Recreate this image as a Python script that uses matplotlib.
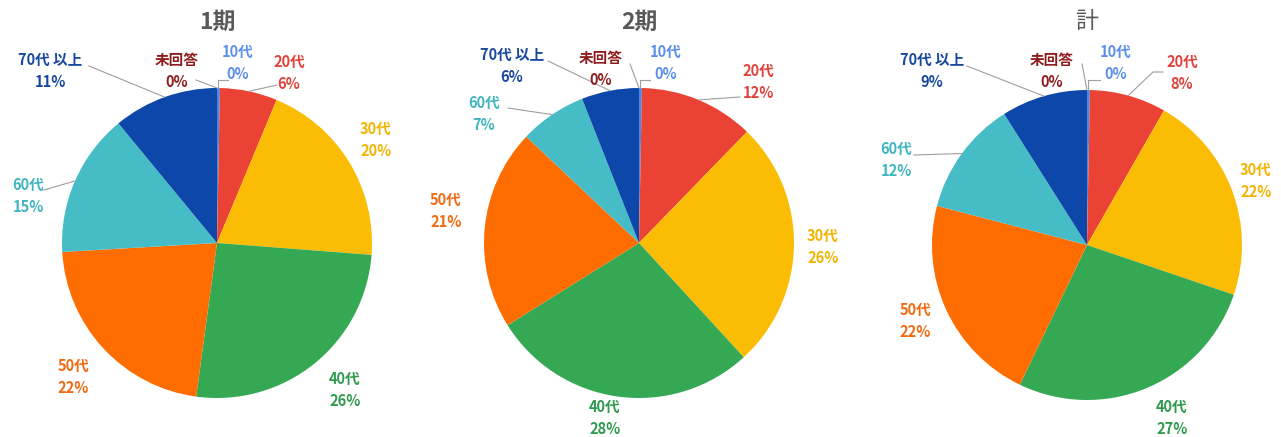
import matplotlib
matplotlib.use("Agg")
import matplotlib.pyplot as plt
import math

plt.rcParams['font.family'] = ['Noto Sans CJK JP', 'DejaVu Sans']

# ---------------- data ----------------
categories = ["10代", "20代", "30代", "40代", "50代", "60代", "70代 以上", "未回答"]
titles = ["1期", "2期", "計"]
values_1 = [0.3, 6, 20, 26, 22, 15, 11, 0]
values_2 = [0.3, 12, 26, 28, 21, 7, 6, 0]
values_3 = [0.3, 8, 22, 27, 22, 12, 9, 0]
pct_labels_1 = ["0%", "6%", "20%", "26%", "22%", "15%", "11%", "0%"]
pct_labels_2 = ["0%", "12%", "26%", "28%", "21%", "7%", "6%", "0%"]
pct_labels_3 = ["0%", "8%", "22%", "27%", "22%", "12%", "9%", "0%"]

# ---------------- style ----------------
slice_colors = ["#4A86E8", "#EA4335", "#FBBC04", "#34A853", "#FF6D01",
                "#46BDC6", "#0D47A9", "#8B1A1A"]
label_colors = ["#5B8FEA", "#E0413A", "#F2B400", "#2E9A4E", "#F06A10",
                "#3FB5BF", "#1747A0", "#8E1C1C"]

W, H = 1281, 437
R = 155
centers = [(217, 243), (639, 243), (1087, 245)]

# label positions (pixel coords, text-centre) and leader-line points near label
label_layout = [
    {  # 1期
        "10代": ((238, 63), [(228, 80)]), "20代": ((289, 73), [(277, 85)]),
        "30代": ((376, 140), None), "40代": ((345, 390), None),
        "50代": ((73, 377), None), "60代": ((28, 196), [(44, 190)]),
        "70代 以上": ((50, 71), [(89, 66)]), "未回答": ((177, 71), [(196, 80)]),
    },
    {  # 2期
        "10代": ((666, 63), [(650, 80)]), "20代": ((758, 82), [(740, 97)]),
        "30代": ((823, 247), None), "40代": ((605, 418), None),
        "50代": ((446, 211), None), "60代": ((484, 114), [(508, 108)]),
        "70代 以上": ((512, 66), [(548, 61)]), "未回答": ((601, 69), [(630, 64)]),
    },
    {  # 計
        "10代": ((1116, 63), [(1100, 80)]),
        "20代": ((1182, 73), [(1153, 72), (1163, 72)]),
        "30代": ((1256, 181), None), "40代": ((1172, 418), None),
        "50代": ((915, 321), None), "60代": ((896, 160), [(914, 155)]),
        "70代 以上": ((932, 71), [(967, 66)]), "未回答": ((1052, 71), [(1082, 64)]),
    },
]

all_values = [values_1, values_2, values_3]
all_pcts = [pct_labels_1, pct_labels_2, pct_labels_3]

fig = plt.figure(figsize=(W / 100, H / 100), dpi=100)
ax = fig.add_axes([0, 0, 1, 1])

for i in range(3):
    cx, cy = centers[i]
    cyd = H - cy
    wedges, _ = ax.pie(all_values[i], colors=slice_colors, startangle=90,
                       counterclock=False, radius=R, center=(cx, cyd),
                       wedgeprops=dict(linewidth=0), frame=True)
    ax.text(cx, H - 22, titles[i], ha='center', va='center', fontsize=16.5,
            fontweight='bold' if i < 2 else 'normal', color='#595959')
    for j, cat in enumerate(categories):
        (lx, ly), lpts = label_layout[i][cat]
        ax.text(lx, H - ly, f"{cat}\n{all_pcts[i][j]}", ha='center', va='center',
                fontsize=10.5, fontweight='bold', color=label_colors[j],
                linespacing=1.45)
        if lpts is not None:
            w = wedges[j]
            th = math.radians((w.theta1 + w.theta2) / 2)
            px = cx + R * math.cos(th)
            py = cyd + R * math.sin(th)
            xs, ys = [px], [py]
            if cat == "10代":
                xs.append(px)
                ys.append(H - lpts[0][1])
            for (ex, ey) in lpts:
                xs.append(ex)
                ys.append(H - ey)
            ax.plot(xs, ys, color='#9E9E9E', lw=0.8)

ax.set_xlim(0, W)
ax.set_ylim(0, H)
ax.set_aspect('equal')
ax.axis('off')
fig.savefig("out.png", dpi=100, facecolor='white')
